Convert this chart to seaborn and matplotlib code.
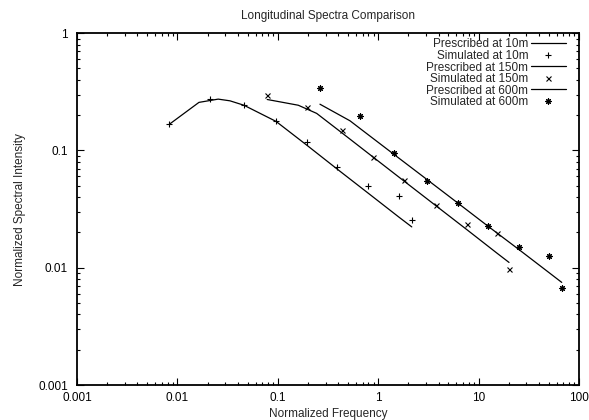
import matplotlib
matplotlib.use("Agg")
import matplotlib.pyplot as plt
import seaborn as sns
import pandas as pd

# prescribed spectra (lines)
f_pres_10 = [0.0083, 0.0164, 0.0255, 0.0334, 0.046, 0.096, 0.197, 0.392, 0.796, 1.61, 2.16]
s_pres_10 = [0.167, 0.257, 0.274, 0.265, 0.243, 0.177, 0.110, 0.0692, 0.0432, 0.0270, 0.0223]
f_pres_150 = [0.0785, 0.16, 0.244, 0.432, 0.893, 1.82, 3.74, 7.6, 15.1, 20.1]
s_pres_150 = [0.272, 0.243, 0.207, 0.142, 0.0876, 0.0546, 0.0339, 0.0212, 0.0134, 0.0111]
f_pres_600 = [0.263, 0.524, 0.659, 1.45, 3.04, 6.19, 12.5, 25.2, 50.6, 67.3]
s_pres_600 = [0.248, 0.179, 0.154, 0.092, 0.0568, 0.0357, 0.0225, 0.0143, 0.00905, 0.0075]

# simulated spectra (points)
f_sim_10 = [0.0083, 0.021, 0.046, 0.096, 0.197, 0.392, 0.796, 1.61, 2.16]
s_sim_10 = [0.167, 0.277, 0.243, 0.177, 0.117, 0.0716, 0.0493, 0.041, 0.0255]
f_sim_150 = [0.0785, 0.197, 0.432, 0.893, 1.82, 3.74, 7.6, 15.1, 20.1]
s_sim_150 = [0.300, 0.233, 0.149, 0.0871, 0.0555, 0.0344, 0.0237, 0.0196, 0.0097]
f_sim_600 = [0.263, 0.659, 1.45, 3.04, 6.19, 12.5, 25.2, 50.6, 67.3]
s_sim_600 = [0.338, 0.196, 0.0943, 0.0547, 0.0353, 0.0228, 0.0151, 0.0126, 0.0067]

sns.set_style("ticks")
plt.rcParams["font.family"] = ["Liberation Sans", "DejaVu Sans"]
plt.rcParams["font.size"] = 8.5

fig = plt.figure(figsize=(5.89, 4.2), dpi=100)
ax = fig.add_axes([0.1307, 0.0833, 0.8523, 0.8377])

series = [
    ("10m", f_pres_10, s_pres_10, f_sim_10, s_sim_10, "+", 4.6),
    ("150m", f_pres_150, s_pres_150, f_sim_150, s_sim_150, "x", 3.6),
    ("600m", f_pres_600, s_pres_600, f_sim_600, s_sim_600, (8, 2, 0), 4.4),
]
for name, fp, sp, fs, ss, mk, ms in series:
    dp = pd.DataFrame({"f": fp, "s": sp})
    sns.lineplot(data=dp, x="f", y="s", ax=ax, color="black", linewidth=0.9,
                 label="Prescribed at " + name, sort=False)
    ds = pd.DataFrame({"f": fs, "s": ss})
    ax.plot(ds["f"], ds["s"], linestyle="none", marker=mk, markersize=ms,
            markeredgewidth=0.8, color="black", label="Simulated at " + name)

ax.set_xscale("log")
ax.set_yscale("log")
ax.set_xlim(0.001, 100)
ax.set_ylim(0.001, 1)
ax.set_xticks([0.001, 0.01, 0.1, 1, 10, 100])
ax.set_xticklabels(["0.001", "0.01", "0.1", "1", "10", "100"])
ax.set_yticks([0.001, 0.01, 0.1, 1])
ax.set_yticklabels(["0.001", "0.01", "0.1", "1"])
ax.tick_params(which="both", direction="in", top=True, right=True, colors="black")
ax.tick_params(which="major", length=5, width=0.8)
ax.tick_params(which="minor", length=2.5, width=0.8)
ax.tick_params(axis="x", which="major", pad=5)
ax.tick_params(axis="y", which="major", pad=6.5)
for sp_ in ax.spines.values():
    sp_.set_visible(True)
    sp_.set_linewidth(1.3)
    sp_.set_color("black")

ax.set_xlabel("Normalized Frequency", labelpad=3)
ax.set_ylabel("Normalized Spectral Intensity", labelpad=9)
ax.set_title("Longitudinal Spectra Comparison", pad=10, fontsize=8.5)

ax.legend(loc="upper right", bbox_to_anchor=(0.974, 0.985), markerfirst=False,
          frameon=False, handlelength=3.0, handletextpad=0.2, labelspacing=-0.04,
          borderaxespad=0, borderpad=0, fontsize=8.5)

fig.savefig("out.png", dpi=100)
